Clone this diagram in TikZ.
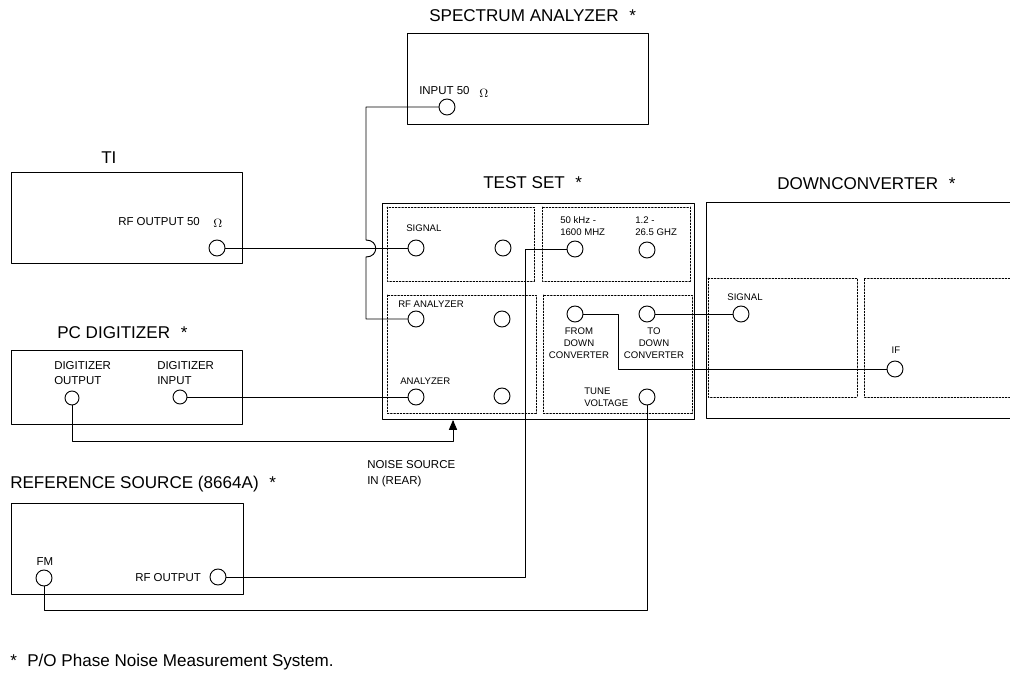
\documentclass[tikz,border=0pt]{standalone}
\usepackage{fontspec}
\setmainfont{Liberation Sans}
\usetikzlibrary{arrows}

\begin{document}
\begin{tikzpicture}[line cap=round,line join=round,>=triangle 45,x=0.75pt,y=-0.75pt,
	unit/.style={line width=0.7pt},
	panel/.style={line width=0.6pt,dash pattern=on 1.2pt off 1.2pt},
	wire/.style={line width=0.7pt},
	port/.style={draw,circle,line width=0.7pt,inner sep=0pt,minimum size=12pt},
	portsm/.style={draw,circle,line width=0.7pt,inner sep=0pt,minimum size=10.5pt},
	ttl/.style={inner sep=0pt,anchor=west,font=\fontsize{12.8}{15}\selectfont},
	lab/.style={inner sep=0pt,anchor=west,align=left,font=\fontsize{7.2}{9}\selectfont},
	labc/.style={inner sep=0pt,align=center,font=\fontsize{7.2}{9}\selectfont},
	labb/.style={inner sep=0pt,anchor=west,align=left,font=\fontsize{8.6}{11}\selectfont}]
	\useasboundingbox (0,0) rectangle (1010,673);
	% instrument boxes
	\draw [unit] (407,33) rectangle (648,124);
	\draw [unit] (11,172) rectangle (242,263);
	\draw [unit] (382,203) rectangle (694,419);
	\draw [unit] (11,350) rectangle (242,424);
	\draw [unit] (11,503) rectangle (243,594);
	\draw [unit] (1010,202)-- (706,202)-- (706,418)-- (1010,418);
	% dotted panels
	\draw [panel] (387,207) rectangle (534,281);
	\draw [panel] (542,207) rectangle (690,281);
	\draw [panel] (387,295) rectangle (536,413);
	\draw [panel] (543,295) rectangle (692,413);
	\draw [panel] (708,278) rectangle (857,397);
	\draw [panel] (1010,278)-- (864,278)-- (864,397)-- (1010,397);
	% titles
	\node [ttl] at (429,16) {SPECTRUM ANALYZER\hspace{8pt}*};
	\node [ttl] at (101,158) {TI};
	\node [ttl] at (483,183) {TEST SET\hspace{8pt}*};
	\node [ttl] at (777,184) {DOWNCONVERTER\hspace{8pt}*};
	\node [ttl] at (57,333) {PC DIGITIZER\hspace{8pt}*};
	\node [ttl] at (10,484) {REFERENCE SOURCE (8664A)\hspace{8pt}*};
	% ports
	\node [port] (specIn) at (447,107) {};
	\node [port] (tiOut) at (217,248) {};
	\node [port] (sigIn) at (416,248) {};
	\node [port] (sigAux) at (503,248) {};
	\node [port] (lowIn) at (575,249) {};
	\node [port] (highIn) at (647,250) {};
	\node [port] (rfIn) at (416,319) {};
	\node [port] (rfAux) at (502,319) {};
	\node [port] (anaIn) at (416,397) {};
	\node [port] (anaAux) at (502,396) {};
	\node [port] (fromDown) at (575,314) {};
	\node [port] (toDown) at (647,314) {};
	\node [port] (tune) at (647,397) {};
	\node [port] (dcSig) at (741,314) {};
	\node [port] (dcIf) at (895,369) {};
	\node [portsm] (digOut) at (72,398) {};
	\node [portsm] (digIn) at (180,397) {};
	\node [port] (refFm) at (44,578) {};
	\node [port] (refOut) at (218,577) {};
	% bend points
	\coordinate (jogtop) at (366,240);
	\coordinate (jogbot) at (366,257);
	\coordinate (noise) at (453,420);
	\coordinate (digbend) at (72,441);
	\coordinate (lowbend) at (525,249);
	\coordinate (fmbend) at (44,610);
	\coordinate (ifbend) at (618,369);
	% connectors
	\draw [wire] (specIn) -| (jogtop) .. controls (379,240) and (379,257) .. (jogbot) |- (rfIn);
	\draw [wire] (tiOut)-- (sigIn);
	\draw [wire] (digIn)-- (anaIn);
	\draw [wire,->] (digOut)-- (digbend) -| (noise);
	\draw [wire] (refOut) -| (lowbend)-- (lowIn);
	\draw [wire] (refFm)-- (fmbend) -| (tune);
	\draw [wire] (fromDown) -| (ifbend)-- (dcIf);
	\draw [wire] (toDown)-- (dcSig);
	% labels
	\node [labb] at (419,91) {INPUT 50};
	\node [labb] at (479,93) {$\Omega$};
	\node [labb] at (118,222) {RF OUTPUT 50};
	\node [labb] at (213,223) {$\Omega$};
	\node [lab] at (406,228) {SIGNAL};
	\node [lab] at (560,226) {50 kHz -\\1600 MHZ};
	\node [lab] at (635,226) {1.2 -\\26.5 GHZ};
	\node [lab] at (398,304) {RF ANALYZER};
	\node [lab] at (400,381) {ANALYZER};
	\node [labc] at (579,343) {FROM\\DOWN\\CONVERTER};
	\node [labc] at (654,343) {TO\\DOWN\\CONVERTER};
	\node [lab] at (584,397) {TUNE\\VOLTAGE};
	\node [labc] at (745,297) {SIGNAL};
	\node [labc] at (896,350) {IF};
	\node [labb,font=\fontsize{8.6}{12}\selectfont] at (367,474) {NOISE SOURCE\\IN (REAR)};
	\node [labb] at (54,373) {DIGITIZER\\OUTPUT};
	\node [labb] at (157,373) {DIGITIZER\\INPUT};
	\node [labb,anchor=center] at (45,562) {FM};
	\node [labb] at (135,578) {RF OUTPUT};
	\node [ttl] at (10,662) {*\hspace{7.8pt}P/O Phase Noise Measurement System.};
\end{tikzpicture}
\end{document}
